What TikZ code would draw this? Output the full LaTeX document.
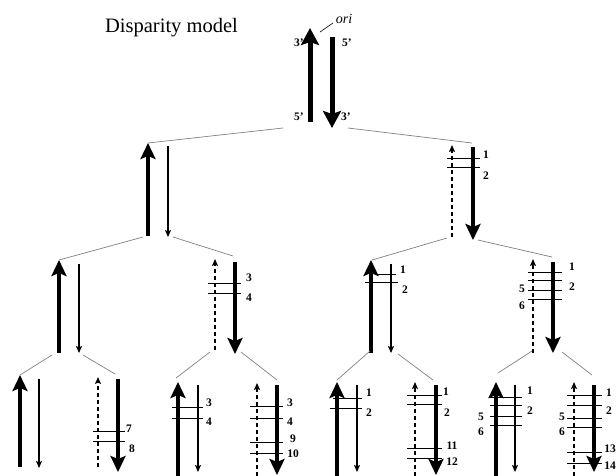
\documentclass[tikz,border=0pt]{standalone}
\usepackage{fontspec}
\setmainfont{Liberation Serif}
\usetikzlibrary{arrows.meta}
\begin{document}
\begin{tikzpicture}[x=1pt,y=-1pt,
 thickstrand/.style={line width=4.5pt,-{Stealth[length=16pt,width=15pt,inset=3pt]}},
 topstrand/.style={line width=5pt,-{Stealth[length=17pt,width=18pt,inset=3pt]}},
 thinstrand/.style={line width=1.3pt,-{Stealth[length=7pt,width=6pt,inset=1.5pt]}},
 dashstrand/.style={line width=1.6pt,dash pattern=on 4pt off 3pt,-{Stealth[length=7pt,width=6pt,inset=1.5pt]}},
 link/.style={draw=gray,line width=0.7pt},
 tick/.style={line width=0.9pt},
 lab/.style={font=\bfseries\fontsize{11.5}{12}\selectfont, inner sep=0pt}
]
\useasboundingbox (0,0) rectangle (616,475);

% title
\node[font=\fontsize{20.5}{21}\selectfont, inner sep=0pt, anchor=base] (title) at (171.5,32) {Disparity model};

% top pair
\draw[topstrand] (310,122) coordinate (Tu0) -- (310,28) coordinate (Tu1);
\draw[topstrand] (332,37) coordinate (Td0) -- (332,128) coordinate (Td1);
\node[lab] (t3a) at (299,43) {3'};
\node[lab] (t5a) at (347,43) {5'};
\node[lab] (t5b) at (299,117) {5'};
\node[lab] (t3b) at (346,117) {3'};
\node[font=\itshape\fontsize{14}{14}\selectfont, inner sep=0pt, anchor=base] (ori) at (344,23) {ori};
\draw[line width=0.6pt] (320,32) coordinate (oriP) -- (333,23) coordinate (oriQ);

% level 1
\draw[thickstrand] (148,236) coordinate (Au0) -- (148,143) coordinate (Au1);
\draw[thinstrand] (168,146) coordinate (Ad0) -- (168,237) coordinate (Ad1);
\draw[dashstrand] (452,237) coordinate (Bu0) -- (452,145) coordinate (Bu1);
\draw[thickstrand] (473,147) coordinate (Bd0) -- (473,240) coordinate (Bd1);
\draw[link] (283,128) coordinate (Tl) -- (Au1);
\draw[link] (348,128) coordinate (Tr) -- (472,143) coordinate (Bt);
\foreach \y in {158,167} \draw[tick] (447,\y) -- (480,\y);
\node[lab] (lB1) at (486,155) {1};
\node[lab] (lB2) at (486,176) {2};

% level 2
\draw[thickstrand] (59,353) coordinate (Cu0) -- (59,260) coordinate (Cu1);
\draw[thinstrand] (79,264) coordinate (Cd0) -- (79,353) coordinate (Cd1);
\draw[dashstrand] (215,350) coordinate (Du0) -- (215,259) coordinate (Du1);
\draw[thickstrand] (235,262) coordinate (Dd0) -- (235,354) coordinate (Dd1);
\draw[thickstrand] (371,353) coordinate (Eu0) -- (371,260) coordinate (Eu1);
\draw[thinstrand] (391,264) coordinate (Ed0) -- (391,353) coordinate (Ed1);
\draw[dashstrand] (533,353) coordinate (Fu0) -- (533,259) coordinate (Fu1);
\draw[thickstrand] (553,262) coordinate (Fd0) -- (553,353) coordinate (Fd1);

\draw[link] (143,237) coordinate (Al) -- (Cu1);
\draw[link] (173,237) coordinate (Ar) -- (233,256) coordinate (Dt);
\draw[link] (447,238) coordinate (Bl) -- (372,260) coordinate (Et);
\draw[link] (478,240) coordinate (Br) -- (552,257) coordinate (Ft);

\foreach \y in {283,293} \draw[tick] (208,\y) -- (241,\y);
\node[lab] (lD3) at (249,278) {3};
\node[lab] (lD4) at (249,298) {4};

\draw[tick] (375,274) -- (396,274);
\draw[tick] (365,282) -- (398,282);
\node[lab] (lE1) at (403,270) {1};
\node[lab] (lE2) at (405,290) {2};

\foreach \y in {272,280,290,299} \draw[tick] (528,\y) -- (562,\y);
\node[lab] (lF1) at (572,267) {1};
\node[lab] (lF2) at (572,287) {2};
\node[lab] (lF5) at (522,289) {5};
\node[lab] (lF6) at (522,306) {6};

% level 3
\draw[thickstrand] (20,467) coordinate (Gu0) -- (20,375) coordinate (Gu1);
\draw[thinstrand] (39,379) coordinate (Gd0) -- (39,468) coordinate (Gd1);
\draw[dashstrand] (98,467) coordinate (Hu0) -- (98,377) coordinate (Hu1);
\draw[thickstrand] (118,379) coordinate (Hd0) -- (118,472) coordinate (Hd1);
\draw[thickstrand] (178,476) coordinate (Iu0) -- (178,382) coordinate (Iu1);
\draw[thinstrand] (198,385) coordinate (Id0) -- (198,472) coordinate (Id1);
\draw[dashstrand] (257,476) coordinate (Ju0) -- (257,383) coordinate (Ju1);
\draw[thickstrand] (277,385) coordinate (Jd0) -- (277,475) coordinate (Jd1);
\draw[thickstrand] (337,476) coordinate (Ku0) -- (337,382) coordinate (Ku1);
\draw[thinstrand] (357,385) coordinate (Kd0) -- (357,472) coordinate (Kd1);
\draw[dashstrand] (415,476) coordinate (Lu0) -- (415,382) coordinate (Lu1);
\draw[thickstrand] (436,385) coordinate (Ld0) -- (436,475) coordinate (Ld1);
\draw[thickstrand] (496,476) coordinate (Mu0) -- (496,382) coordinate (Mu1);
\draw[thinstrand] (515,385) coordinate (Md0) -- (515,472) coordinate (Md1);
\draw[dashstrand] (574,476) coordinate (Nu0) -- (574,382) coordinate (Nu1);
\draw[thickstrand] (594,385) coordinate (Nd0) -- (594,472) coordinate (Nd1);

\draw[link] (52,355) coordinate (Cl) -- (Gu1);
\draw[link] (83,355) coordinate (Cr) -- (115,374) coordinate (Ht);
\draw[link] (210,352) coordinate (Dl) -- (176,378) coordinate (It);
\draw[link] (241,352) coordinate (Dr) -- (277,380) coordinate (Jt);
\draw[link] (370,351) coordinate (El) -- (337,380) coordinate (Kt);
\draw[link] (398,354) coordinate (Er) -- (433,380) coordinate (Lt);
\draw[link] (532,351) coordinate (Fl) -- (498,373) coordinate (Mt);
\draw[link] (562,352) coordinate (Fr) -- (592,375) coordinate (Nt);

\foreach \y in {431,441} \draw[tick] (93,\y) -- (125,\y);
\node[lab] (lH7) at (129,429) {7};
\node[lab] (lH8) at (132,449) {8};

\foreach \y in {407,418} \draw[tick] (172,\y) -- (203,\y);
\node[lab] (lI3) at (209,403) {3};
\node[lab] (lI4) at (209,422) {4};

\foreach \y in {406,418,442,453} \draw[tick] (250,\y) -- (283,\y);
\node[lab] (lJ3) at (290,403) {3};
\node[lab] (lJ4) at (290,422) {4};
\node[lab] (lJ9) at (293,439) {9};
\node[lab] (lJ10) at (293,454) {10};

\draw[tick] (333,398) -- (362,398);
\draw[tick] (330,408) -- (362,408);
\node[lab] (lK1) at (369,393) {1};
\node[lab] (lK2) at (369,413) {2};

\foreach \y in {395,404,448,458} \draw[tick] (407,\y) -- (442,\y);
\node[lab] (lL1) at (446,392) {1};
\node[lab] (lL2) at (447,413) {2};
\node[lab] (lL11) at (452,446) {11};
\node[lab] (lL12) at (452,462) {12};

\foreach \y in {397,405,416,425} \draw[tick] (490,\y) -- (522,\y);
\node[lab] (lM1) at (530,391) {1};
\node[lab] (lM2) at (530,411) {2};
\node[lab] (lM5) at (481,417) {5};
\node[lab] (lM6) at (481,432) {6};

\foreach \y in {395,405,418,427,452,463} \draw[tick] (567,\y) -- (602,\y);
\node[lab] (lN1) at (609,393) {1};
\node[lab] (lN2) at (609,411) {2};
\node[lab] (lN5) at (562,417) {5};
\node[lab] (lN6) at (562,432) {6};
\node[lab] (lN13) at (610,449) {13};
\node[lab] (lN14) at (610,466) {14};
\end{tikzpicture}
\end{document}
